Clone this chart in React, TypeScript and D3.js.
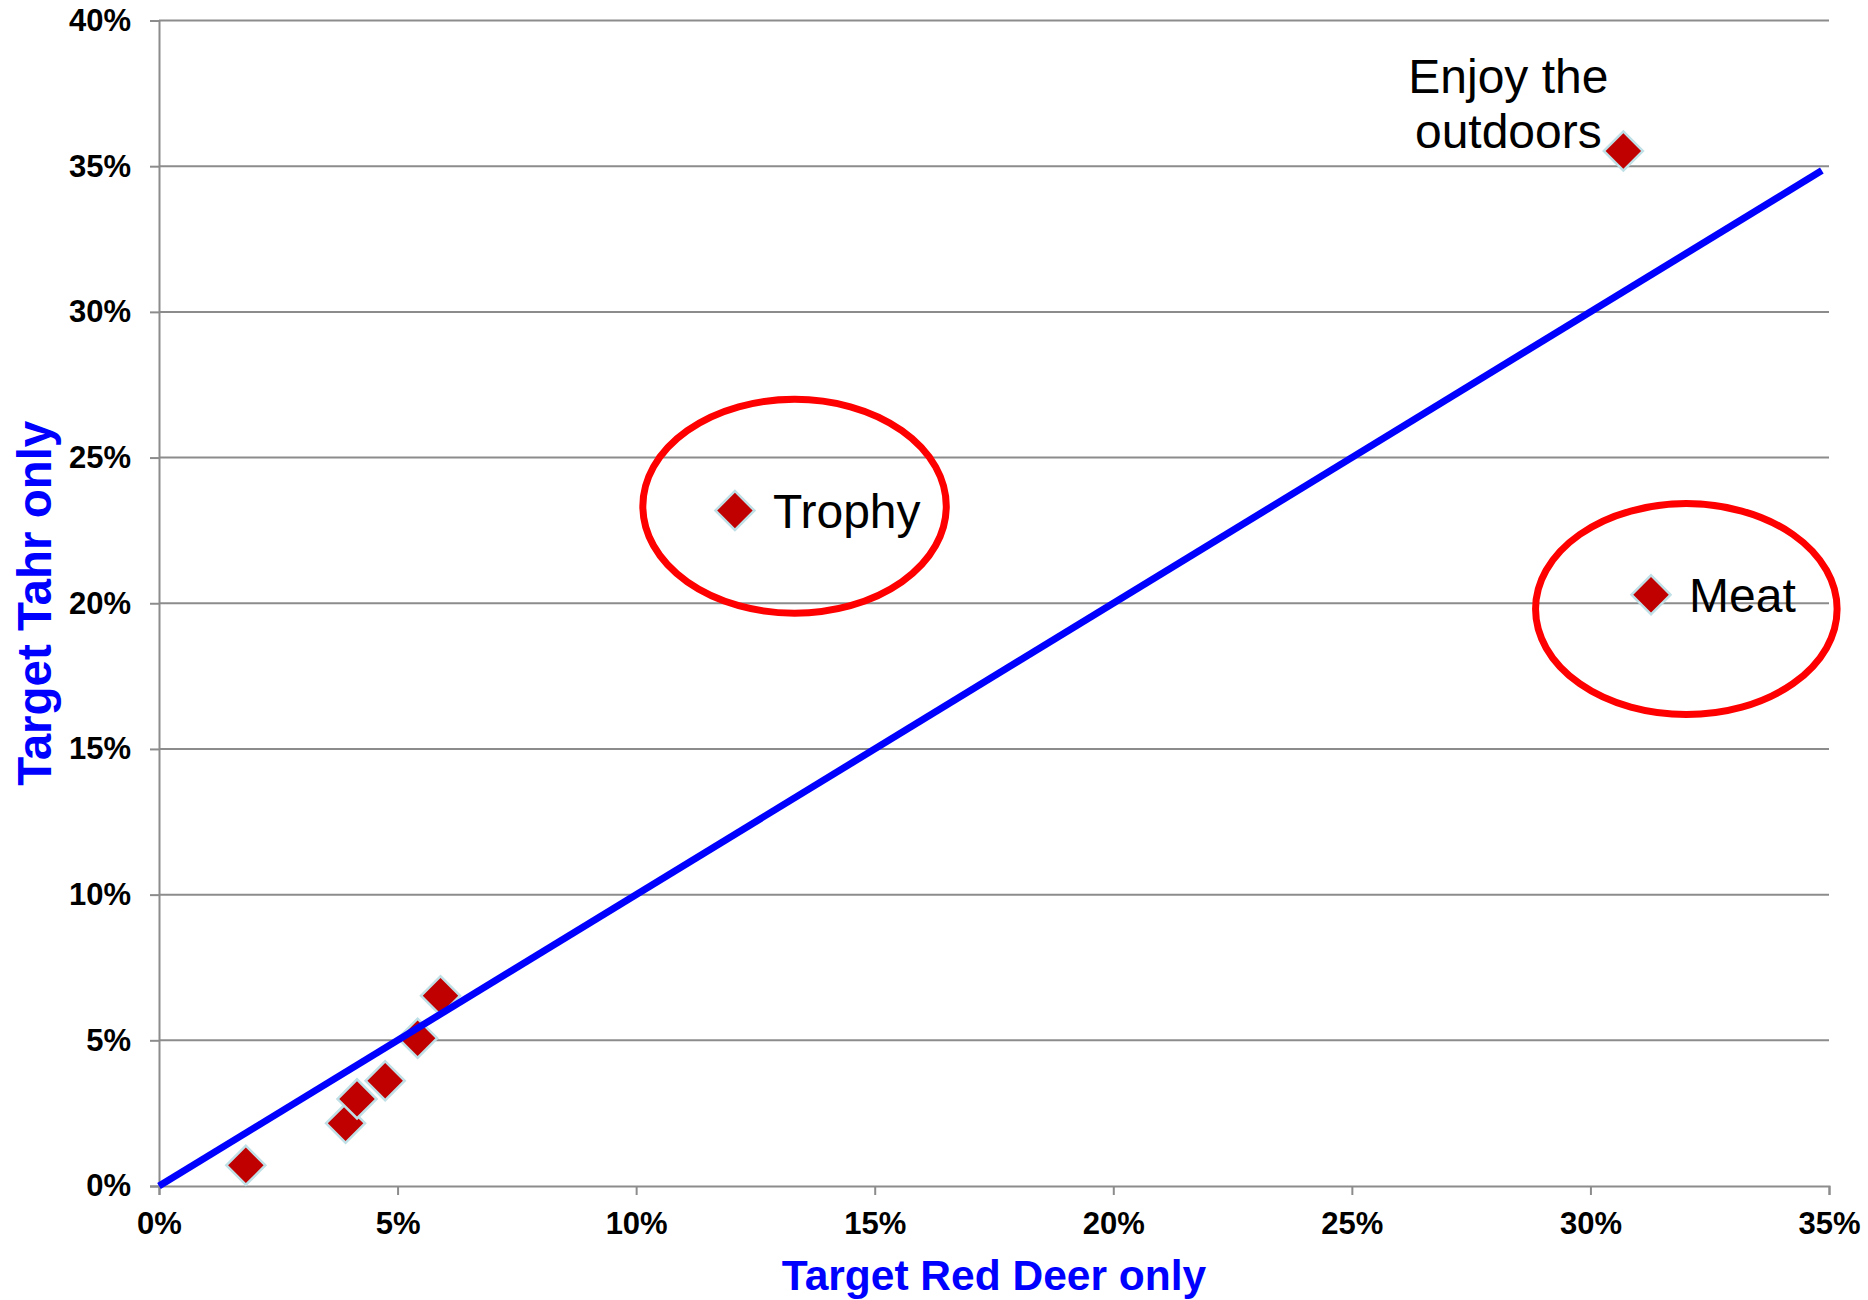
import React, { useEffect, useRef } from "react";
import * as d3 from "d3";

const redDeer = [0.0182, 0.0391, 0.0415, 0.0474, 0.0542, 0.059, 0.1207, 0.3127, 0.3069];
const tahr = [0.0071, 0.0215, 0.0299, 0.0361, 0.0507, 0.0653, 0.2318, 0.2029, 0.3552];
const pointLabels = ["", "", "", "", "", "", "Trophy", "Meat", "Enjoy the|outdoors"];
const xTicks = [0, 0.05, 0.1, 0.15, 0.2, 0.25, 0.3, 0.35];
const yTicks = [0, 0.05, 0.1, 0.15, 0.2, 0.25, 0.3, 0.35, 0.4];
const refLine = [0, 0.3485];
const circleCx = [0.1332, 0.3201];
const circleCy = [0.2333, 0.198];
const circleRx = [0.0318, 0.0316];
const circleRy = [0.0367, 0.0362];

const W = 1868;
const H = 1300;
const M = { left: 159, right: 1829, top: 20.5, bottom: 1186 };

export default function App() {
  const ref = useRef<SVGSVGElement>(null);

  useEffect(() => {
    document.body.style.margin = "0";
    const svg = d3.select(ref.current);
    svg.selectAll("*").remove();
    const x = d3.scaleLinear().domain([0, 0.35]).range([M.left, M.right]);
    const y = d3.scaleLinear().domain([0, 0.4]).range([M.bottom, M.top]);
    const fmt = (v: number) => `${Math.round(v * 100)}%`;
    const font = "Liberation Sans, Arial, sans-serif";

    // gridlines
    svg.append("g")
      .selectAll("line")
      .data(yTicks.slice(1))
      .join("line")
      .attr("x1", M.left).attr("x2", M.right)
      .attr("y1", (d) => y(d)).attr("y2", (d) => y(d))
      .attr("stroke", "#8c8c8c").attr("stroke-width", 2);

    // y axis
    const yAxis = svg.append("g").attr("transform", `translate(${M.left},0)`)
      .call(d3.axisLeft(y).tickValues(yTicks).tickFormat((d) => fmt(d as number)).tickSize(9).tickPadding(19));
    yAxis.select(".domain").attr("stroke", "#8c8c8c").attr("stroke-width", 2);
    yAxis.selectAll(".tick line").attr("stroke", "#8c8c8c").attr("stroke-width", 2);
    yAxis.selectAll(".tick text").attr("font-family", font).attr("font-size", 31)
      .attr("font-weight", "bold").attr("fill", "#000");

    // x axis
    const xAxis = svg.append("g").attr("transform", `translate(0,${M.bottom})`)
      .call(d3.axisBottom(x).tickValues(xTicks).tickFormat((d) => fmt(d as number)).tickSize(9).tickPadding(17));
    xAxis.select(".domain").attr("stroke", "#8c8c8c").attr("stroke-width", 2);
    xAxis.selectAll(".tick line").attr("stroke", "#8c8c8c").attr("stroke-width", 2);
    xAxis.selectAll(".tick text").attr("font-family", font).attr("font-size", 31)
      .attr("font-weight", "bold").attr("fill", "#000");

    // axis titles
    svg.append("text")
      .attr("x", (M.left + M.right) / 2).attr("y", 1290)
      .attr("text-anchor", "middle").attr("font-family", font)
      .attr("font-size", 42.5).attr("font-weight", "bold").attr("fill", "#0000ff")
      .text("Target Red Deer only");
    svg.append("text")
      .attr("transform", `translate(51,${(M.top + M.bottom) / 2}) rotate(-90)`)
      .attr("text-anchor", "middle").attr("font-family", font)
      .attr("font-size", 47.5).attr("font-weight", "bold").attr("fill", "#0000ff")
      .text("Target Tahr only");

    // ellipses
    svg.append("g").selectAll("ellipse")
      .data(circleCx.map((cx, i) => ({ cx, cy: circleCy[i], rx: circleRx[i], ry: circleRy[i] })))
      .join("ellipse")
      .attr("cx", (d) => x(d.cx)).attr("cy", (d) => y(d.cy))
      .attr("rx", (d) => x(d.rx) - x(0)).attr("ry", (d) => y(0) - y(d.ry))
      .attr("fill", "none").attr("stroke", "#ff0000").attr("stroke-width", 7);

    // points
    const pts = redDeer.map((v, i) => ({ x: v, y: tahr[i], label: pointLabels[i] }));
    const sym = d3.symbol().type(d3.symbolSquare).size(760);
    svg.append("g").selectAll("path")
      .data(pts)
      .join("path")
      .attr("d", sym)
      .attr("transform", (d) => `translate(${x(d.x)},${y(d.y)}) rotate(45)`)
      .attr("fill", "#c00000").attr("stroke", "#bfe0e6").attr("stroke-width", 2.5);

    // reference line
    svg.append("line")
      .attr("x1", x(refLine[0])).attr("y1", y(refLine[0]))
      .attr("x2", x(refLine[1])).attr("y2", y(refLine[1]))
      .attr("stroke", "#0000ff").attr("stroke-width", 7);

    // labels
    const lab = svg.append("g").attr("font-family", font).attr("font-size", 48).attr("fill", "#000");
    pts.forEach((p) => {
      if (!p.label) return;
      const px = x(p.x), py = y(p.y);
      const lines = p.label.split("|");
      if (lines.length === 1) {
        lab.append("text").attr("x", px + 38).attr("y", py + 17).text(lines[0]);
      } else {
        const t = lab.append("text").attr("text-anchor", "middle");
        lines.forEach((ln, j) => {
          t.append("tspan").attr("x", px - 115).attr("y", py - 58 + j * 55).text(ln);
        });
      }
    });
  }, []);

  return <svg ref={ref} width={W} height={H} style={{ display: "block" }} />;
}
